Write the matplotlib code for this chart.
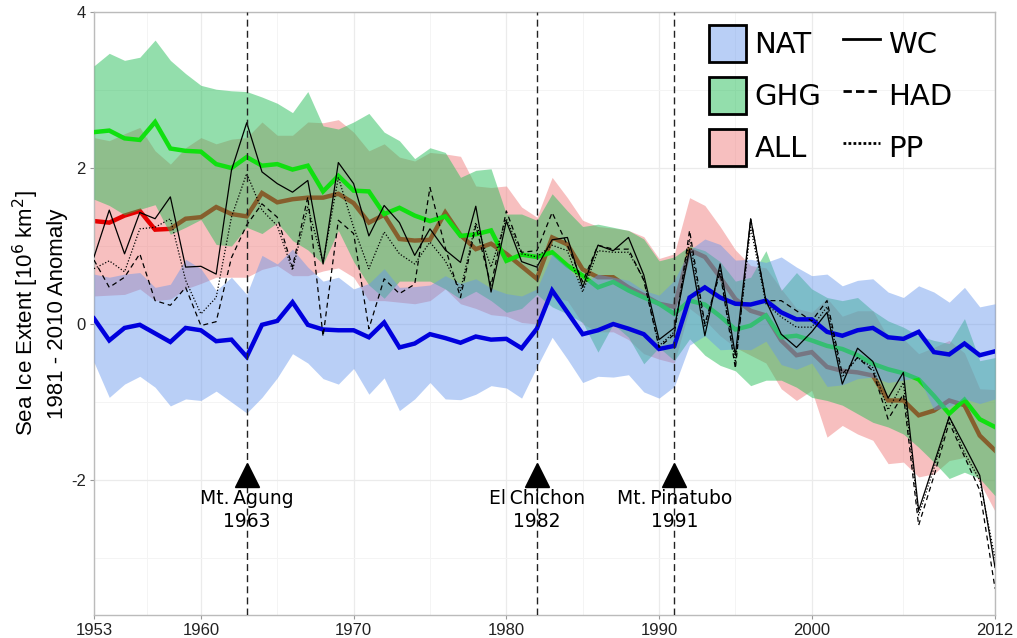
import numpy as np
import matplotlib
matplotlib.use("Agg")
import matplotlib.pyplot as plt
from matplotlib.patches import Patch
from matplotlib.lines import Line2D

years = np.arange(1953, 2013)

# Ensemble means (10^6 km^2, anomaly relative to 1981-2010)
nat_mean = [0.07, -0.21, -0.05, -0.01, -0.12, -0.23, -0.05, -0.08, -0.22, -0.20,
            -0.42, -0.01, 0.04, 0.28, -0.01, -0.07, -0.08, -0.08, -0.17, 0.02,
            -0.30, -0.25, -0.13, -0.18, -0.24, -0.16, -0.20, -0.19, -0.31, -0.06,
            0.43, 0.15, -0.13, -0.08, 0.00, -0.06, -0.13, -0.32, -0.28, 0.34,
            0.47, 0.34, 0.26, 0.25, 0.30, 0.15, 0.06, 0.06, -0.10, -0.15,
            -0.08, -0.05, -0.17, -0.19, -0.10, -0.36, -0.39, -0.25, -0.40, -0.35]
ghg_mean = [2.46, 2.48, 2.38, 2.36, 2.59, 2.25, 2.22, 2.21, 2.05, 2.00,
            2.14, 2.03, 2.05, 1.98, 2.03, 1.70, 1.90, 1.71, 1.70, 1.41,
            1.49, 1.39, 1.32, 1.38, 1.13, 1.15, 1.20, 0.81, 0.89, 0.86,
            0.92, 0.75, 0.62, 0.47, 0.54, 0.43, 0.34, 0.26, 0.13, 0.30,
            0.25, 0.10, -0.07, -0.02, 0.11, -0.17, -0.15, -0.21, -0.28, -0.32,
            -0.40, -0.51, -0.58, -0.63, -0.71, -0.92, -1.15, -0.97, -1.22, -1.32]
all_mean = [1.32, 1.30, 1.39, 1.45, 1.21, 1.22, 1.35, 1.37, 1.50, 1.41,
            1.38, 1.68, 1.56, 1.60, 1.62, 1.62, 1.67, 1.55, 1.30, 1.40,
            1.09, 1.07, 1.08, 1.43, 1.14, 0.96, 1.03, 0.90, 0.74, 0.58,
            1.11, 1.02, 0.70, 0.60, 0.60, 0.47, 0.37, 0.26, 0.22, 0.95,
            0.86, 0.60, 0.32, 0.17, 0.11, -0.21, -0.40, -0.36, -0.55, -0.60,
            -0.62, -0.66, -0.98, -0.98, -1.17, -1.11, -0.98, -1.04, -1.43, -1.62]

# Ensemble spread (lower / upper envelope)
nat_lo = [-0.49, -0.94, -0.77, -0.67, -0.81, -1.05, -0.96, -0.98, -0.86, -1.00,
          -1.14, -0.94, -0.69, -0.38, -0.50, -0.70, -0.77, -0.57, -0.90, -0.69,
          -1.11, -0.96, -0.75, -0.96, -0.97, -0.90, -0.79, -0.82, -0.95, -0.55,
          -0.17, -0.45, -0.75, -0.67, -0.68, -0.65, -0.87, -0.95, -0.80, -0.27,
          -0.15, -0.33, -0.32, -0.33, -0.22, -0.52, -0.58, -0.50, -0.80, -0.78,
          -0.70, -0.68, -0.75, -0.72, -0.68, -1.10, -1.06, -0.96, -1.02, -0.96]
nat_hi = [0.64, 0.60, 0.64, 0.66, 0.47, 0.51, 0.83, 0.71, 0.43, 0.60,
          0.38, 0.88, 0.77, 0.96, 0.73, 0.55, 0.60, 0.45, 0.52, 0.71,
          0.47, 0.48, 0.50, 0.62, 0.52, 0.58, 0.46, 0.39, 0.36, 0.45,
          0.90, 0.73, 0.51, 0.64, 0.60, 0.56, 0.43, 0.37, 0.56, 0.95,
          1.09, 1.02, 0.82, 0.83, 0.79, 0.86, 0.73, 0.62, 0.64, 0.49,
          0.56, 0.58, 0.41, 0.34, 0.49, 0.41, 0.28, 0.47, 0.22, 0.26]
ghg_lo = [1.60, 1.52, 1.40, 1.47, 1.53, 1.15, 1.24, 1.34, 1.02, 1.00,
          1.24, 1.16, 1.30, 1.07, 0.95, 0.77, 1.20, 0.80, 0.50, 0.33,
          0.55, 0.55, 0.55, 0.45, 0.32, 0.42, 0.30, 0.15, 0.20, 0.38,
          0.22, 0.13, 0.02, -0.36, 0.00, -0.17, -0.51, -0.30, -0.47, -0.19,
          -0.40, -0.53, -0.60, -0.79, -0.72, -0.72, -0.81, -0.94, -0.98, -1.04,
          -1.15, -1.26, -1.32, -1.41, -1.58, -1.77, -1.98, -1.90, -1.98, -2.20]
ghg_hi = [3.31, 3.47, 3.38, 3.42, 3.64, 3.38, 3.21, 3.06, 3.01, 2.99,
          2.98, 2.91, 2.83, 2.71, 2.98, 2.54, 2.50, 2.59, 2.70, 2.46,
          2.35, 2.12, 2.26, 2.20, 1.88, 1.97, 1.99, 1.41, 1.41, 1.33,
          1.67, 1.45, 1.25, 1.28, 1.24, 1.20, 1.09, 0.81, 0.86, 1.00,
          0.94, 0.80, 0.55, 0.60, 0.94, 0.43, 0.66, 0.45, 0.34, 0.30,
          0.34, 0.17, 0.04, -0.04, -0.15, -0.21, -0.25, 0.07, -0.47, -0.43]
all_lo = [0.36, 0.37, 0.38, 0.45, 0.30, 0.32, 0.45, 0.52, 0.60, 0.60,
          0.60, 0.70, 0.75, 0.62, 0.62, 0.68, 0.72, 0.60, 0.30, 0.30,
          0.28, 0.26, 0.30, 0.45, 0.26, 0.20, 0.12, 0.10, 0.02, 0.00,
          0.35, 0.30, 0.00, -0.10, -0.10, -0.20, -0.38, -0.45, -0.50, 0.20,
          0.05, -0.15, -0.30, -0.40, -0.50, -0.83, -0.98, -0.85, -1.45, -1.30,
          -1.41, -1.49, -1.79, -1.77, -1.96, -1.92, -1.75, -1.71, -2.03, -2.40]
all_hi = [2.39, 2.35, 2.44, 2.52, 2.22, 2.05, 2.26, 2.39, 2.31, 2.37,
          2.39, 2.59, 2.42, 2.42, 2.59, 2.58, 2.62, 2.46, 2.22, 2.31,
          2.14, 2.09, 2.20, 2.18, 2.15, 1.77, 1.75, 1.77, 1.50, 1.37,
          1.88, 1.62, 1.33, 1.25, 1.23, 1.20, 1.12, 0.84, 0.90, 1.62,
          1.52, 1.25, 0.95, 0.75, 0.72, 0.45, 0.20, 0.15, 0.33, 0.10,
          0.17, 0.17, -0.17, -0.19, -0.38, -0.30, -0.21, -0.37, -0.83, -0.84]

# Observational records
wc = [0.86, 1.46, 0.90, 1.43, 1.35, 1.63, 0.73, 0.74, 0.64, 1.97,
      2.58, 1.95, 1.80, 1.69, 1.84, 0.77, 2.07, 1.80, 1.13, 1.52,
      1.30, 0.88, 1.22, 0.95, 0.79, 1.51, 0.41, 1.32, 0.80, 0.73,
      1.08, 1.11, 0.47, 1.01, 0.94, 1.11, 0.63, -0.20, -0.05, 0.96,
      -0.15, 0.77, -0.40, 1.35, 0.30, -0.13, -0.30, -0.10, 0.15, -0.77,
      -0.31, -0.48, -0.95, -0.62, -2.39, -1.79, -1.19, -1.56, -1.94, -3.12]
had = [0.82, 0.47, 0.60, 0.90, 0.30, 0.24, 0.47, -0.02, 0.03, 0.85,
       1.27, 1.54, 1.37, 0.73, 1.63, -0.16, 1.33, 1.16, -0.06, 0.58,
       0.39, 0.51, 1.75, 0.98, 0.34, 1.26, 0.49, 1.45, 0.92, 0.94,
       1.43, 1.01, 0.54, 1.01, 0.96, 0.96, 0.56, -0.30, -0.13, 1.20,
       0.00, 0.66, -0.57, 1.35, 0.30, 0.30, 0.17, 0.04, 0.30, -0.64,
       -0.43, -0.60, -1.22, -0.90, -2.58, -1.95, -1.26, -1.70, -2.13, -3.39]
pp = [0.71, 0.81, 0.67, 1.22, 1.24, 1.35, 0.56, 0.13, 0.34, 1.37,
      1.93, 1.46, 1.26, 0.69, 1.50, 0.79, 1.88, 1.24, 0.71, 1.18,
      0.90, 0.77, 1.05, 0.81, 0.43, 1.30, 0.73, 1.35, 0.90, 0.86,
      1.01, 0.94, 0.41, 0.94, 0.92, 0.92, 0.58, -0.28, -0.10, 1.09,
      -0.04, 0.70, -0.49, 1.24, 0.26, 0.09, -0.04, -0.04, 0.22, -0.68,
      -0.43, -0.56, -1.10, -0.75, -2.45, -1.85, -1.19, -1.65, -2.00, -3.00]

# Volcanic eruptions
volcano_years = [1963, 1982, 1991]
volcano_names = ["Mt.\u2009Agung", "El\u2009Chichon", "Mt.\u2009Pinatubo"]

x_ticks = [1953, 1960, 1970, 1980, 1990, 2000, 2012]
y_ticks = [-2, 0, 2, 4]

nat_fill = (100 / 255, 149 / 255, 237 / 255, 0.45)
ghg_fill = (40 / 255, 190 / 255, 90 / 255, 0.5)
all_fill = (240 / 255, 128 / 255, 128 / 255, 0.5)

fig = plt.figure(figsize=(10.17, 6.38), dpi=100)
ax = fig.add_axes([94 / 1017, 1 - 615 / 638, (995 - 94) / 1017, (615 - 12) / 638])

ax.set_xlim(1953, 2012)
ax.set_ylim(-3.73, 4.0)

# background grid: major at ticks, minor halfway between
x_minor = [(a + b) / 2 for a, b in zip(x_ticks[:-1], x_ticks[1:])]
for xv in x_ticks:
    ax.axvline(xv, color="#ebebeb", lw=0.9, zorder=0)
for xv in x_minor:
    ax.axvline(xv, color="#f4f4f4", lw=0.7, zorder=0)
for yv in y_ticks:
    ax.axhline(yv, color="#ebebeb", lw=0.9, zorder=0)
for yv in [-3, -1, 1, 3]:
    ax.axhline(yv, color="#f4f4f4", lw=0.7, zorder=0)

# ensemble envelopes and means
ax.fill_between(years, all_lo, all_hi, color=all_fill, lw=0, zorder=1)
ax.plot(years, all_mean, color="#e60000", lw=3.2, zorder=2, solid_joinstyle="miter")
ax.fill_between(years, ghg_lo, ghg_hi, color=ghg_fill, lw=0, zorder=3)
ax.plot(years, ghg_mean, color="#10e010", lw=3.2, zorder=4, solid_joinstyle="miter")
ax.fill_between(years, nat_lo, nat_hi, color=nat_fill, lw=0, zorder=5)
ax.plot(years, nat_mean, color="#0000dd", lw=3.2, zorder=6, solid_joinstyle="miter")

# observations
ax.plot(years, wc, color="black", lw=0.9, ls="-", zorder=7)
ax.plot(years, had, color="black", lw=0.9, ls=(0, (4, 3)), zorder=7)
ax.plot(years, pp, color="black", lw=0.9, ls=(0, (1, 1.5)), zorder=7)

# eruptions
for vy, name in zip(volcano_years, volcano_names):
    ax.axvline(vy, color="#222222", lw=1.0, ls=(0, (5, 3)), zorder=8)
    ax.plot([vy], [-1.94], marker="^", ms=17, color="black", zorder=9, clip_on=False)
    ax.text(vy, -2.12, f"{name}\n{vy}", ha="center", va="top", fontsize=13.5,
            family="DejaVu Sans", linespacing=1.25, zorder=9)

ax.set_xticks(x_ticks)
ax.set_yticks(y_ticks)
ax.set_xticklabels([str(v) for v in x_ticks])
ax.set_yticklabels([str(v) for v in y_ticks])
for lab in ax.get_xticklabels() + ax.get_yticklabels():
    lab.set_family("Liberation Sans")
    lab.set_fontsize(12)
    lab.set_color("#222222")
ax.tick_params(axis="both", length=3, width=0.8, color="#999999", pad=3)

for sp in ax.spines.values():
    sp.set_color("#bbbbbb")
    sp.set_linewidth(1.0)

ax.set_ylabel("Sea Ice Extent [10$^6$ km$^2$]\n1981 - 2010 Anomaly",
              fontsize=16, family="Liberation Sans", linespacing=1.35, labelpad=2)

handles = [
    Patch(facecolor=nat_fill, edgecolor="black", lw=2),
    Patch(facecolor=ghg_fill, edgecolor="black", lw=2),
    Patch(facecolor=all_fill, edgecolor="black", lw=2),
    Line2D([], [], color="black", lw=2, ls="-"),
    Line2D([], [], color="black", lw=2, ls=(0, (3, 1.5))),
    Line2D([], [], color="black", lw=2, ls=(0, (1, 0.8))),
]
labels = ["NAT", "GHG", "ALL", "WC", "HAD", "PP"]
leg = ax.legend(handles, labels, ncol=2, loc="upper right",
                bbox_to_anchor=(0.953, 0.978), frameon=False,
                prop={"family": "DejaVu Sans", "size": 21},
                handlelength=1.25, handleheight=1.57, handletextpad=0.3,
                columnspacing=0.75, labelspacing=0.52, borderpad=0,
                borderaxespad=0)
leg.set_zorder(10)

fig.savefig("out.png", dpi=100)
